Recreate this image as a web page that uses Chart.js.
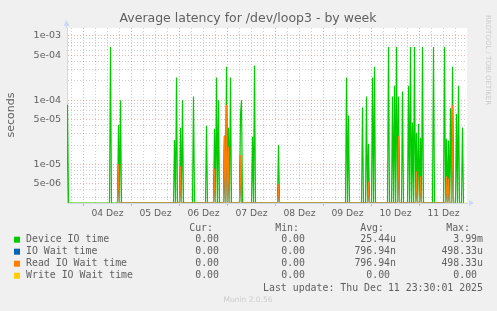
<!DOCTYPE html>
<html>
<head>
<meta charset="utf-8">
<script src="https://cdn.jsdelivr.net/npm/chart.js@4.4.1/dist/chart.umd.min.js"></script>
<style>
    html, body { margin: 0; padding: 0; background: #f0f0f0; }
    #chart { display: block; }
</style>
</head>
<body>
<canvas id="chart" width="497" height="311"></canvas>
<script>
// time is in hours from 04 Dez 00:00
const X_MIN = -8.25;
const X_MAX = 191.75;
const Y_MIN = 2.5e-6;
const Y_MAX = 1.33e-3;

const dayLabels = ['04 Dez', '05 Dez', '06 Dez', '07 Dez', '08 Dez', '09 Dez', '10 Dez', '11 Dez'];
const yTickValues = [1e-3, 5e-4, 1e-4, 5e-5, 1e-5, 5e-6];
const yTickLabels = ['1e-03', '5e-04', '1e-04', '5e-05', '1e-05', '5e-06'];

const deviceHours = [-8, 13.5, 17.5, 18.5, 45.5, 46.5, 48.5, 49.5, 55, 61.5, 65.5, 66.5, 67.5, 70.5, 71.5, 72.5, 73.5,
    78.5, 79, 84.5, 85.5, 97.5, 131.5, 132.5, 139.5, 141.5, 142.5, 144.5, 145.5, 152.5, 154.5, 155.5, 156.5, 157.5,
    159.5, 162.5, 163.5, 164.5, 165.5, 166.5, 167.5, 168.5, 169.5, 175, 180.5, 181.5, 182.5, 183.5, 184.5, 186.5,
    187.5, 189.5];
const deviceValues = [8.5e-5, 6.7e-4, 4.1e-5, 1.0e-4, 2.4e-5, 2.25e-4, 3.7e-5, 1.0e-4, 1.14e-4, 4.0e-5, 3.6e-5, 2.25e-4,
    1.0e-4, 2.8e-5, 3.3e-4, 3.7e-5, 2.25e-4, 6.0e-5, 1.0e-4, 2.7e-5, 3.45e-4, 2.0e-5, 2.25e-4, 5.75e-5, 7.7e-5,
    1.14e-4, 2.1e-5, 2.25e-4, 3.3e-4, 6.7e-4, 1.14e-4, 1.67e-4, 6.7e-4, 1.14e-4, 1.36e-4, 1.67e-4, 6.7e-4, 4.5e-5,
    6.7e-4, 3.1e-5, 4.3e-5, 2.6e-5, 6.7e-4, 6.7e-4, 6.7e-4, 2.5e-5, 2.35e-5, 7.5e-5, 3.3e-4, 6.1e-5, 1.67e-4, 3.75e-5];

const readHours = [17.5, 48.5, 65.5, 70.5, 71.5, 72.5, 78.5, 97.5, 142.5, 157.5, 166.5, 168.5, 181.5, 182.5, 184.5];
const readValues = [1.0e-5, 9.3e-6, 8.6e-6, 2.8e-5, 8.5e-5, 1.9e-5, 1.4e-5, 4.9e-6, 5.4e-6, 2.8e-5, 7.8e-6, 6.5e-6,
    6.5e-6, 6.0e-6, 8.5e-5];

// IO wait is identical to read IO wait (same avg / max), hidden under it
const ioWaitHours = [17.5, 48.5, 65.5, 70.5, 71.5, 72.5, 78.5, 97.5, 142.5, 157.5, 166.5, 168.5, 181.5, 182.5, 184.5];
const ioWaitValues = [1.0e-5, 9.3e-6, 8.6e-6, 2.8e-5, 8.5e-5, 1.9e-5, 1.4e-5, 4.9e-6, 5.4e-6, 2.8e-5, 7.8e-6, 6.5e-6,
    6.5e-6, 6.0e-6, 8.5e-5];

const writeHours = [X_MIN, X_MAX];
const writeValues = [0, 0];

const seriesNames = ['Device IO time', 'IO Wait time', 'Read IO Wait time', 'Write IO Wait time'];
const seriesColors = ['#00cc00', '#0066b3', '#ff8000', '#ffcc00'];
const curText = ['0.00', '0.00', '0.00', '0.00'];
const minText = ['0.00', '0.00', '0.00', '0.00'];
const avgText = ['25.44u', '796.94n', '796.94n', '0.00 '];
const maxText = ['3.99m', '498.33u', '498.33u', '0.00 '];

const FONT_COLOR = '#606060';
const AXIS_COLOR = '#CFD6F8';
const MGRID_COLOR = 'rgba(225, 100, 100, 0.5)';
const GRID_COLOR = 'rgba(150, 150, 150, 0.45)';

// samples between the spikes are zero; on the log axis zero sits on the bottom edge
function toLine(hours, values) {
    const pts = [];
    const lv = v => (v > 0 ? v : Y_MIN);
    hours.forEach((h, i) => {
        const prev = hours[i - 1];
        const next = hours[i + 1];
        if (prev === undefined || h - prev > 0.75) pts.push({ x: h - 0.5, y: Y_MIN });
        pts.push({ x: h, y: lv(values[i]) });
        if (next === undefined || next - h > 0.75) pts.push({ x: h + 0.5, y: Y_MIN });
    });
    return pts;
}

function isMajorY(v) {
    return yTickValues.some(t => Math.abs(v / t - 1) < 1e-6);
}

const muninDecor = {
    id: 'muninDecor',
    beforeDraw(chart) {
        const { ctx, chartArea: a } = chart;
        ctx.save();
        ctx.fillStyle = '#f0f0f0';
        ctx.fillRect(0, 0, chart.width, chart.height);
        ctx.fillStyle = '#ffffff';
        ctx.fillRect(a.left, a.top, a.right - a.left, a.bottom - a.top);
        ctx.restore();
    },
    afterDraw(chart) {
        const { ctx, chartArea: a } = chart;
        ctx.save();

        // axis arrows
        ctx.fillStyle = AXIS_COLOR;
        ctx.strokeStyle = AXIS_COLOR;
        ctx.lineWidth = 1;
        ctx.beginPath();
        ctx.moveTo(a.left - 0.5, a.top);
        ctx.lineTo(a.left - 0.5, a.top - 4);
        ctx.stroke();
        ctx.beginPath();
        ctx.moveTo(a.left - 3.5, a.top - 2);
        ctx.lineTo(a.left + 2.5, a.top - 2);
        ctx.lineTo(a.left - 0.5, a.top - 8);
        ctx.closePath();
        ctx.fill();
        ctx.beginPath();
        ctx.moveTo(a.right + 2, a.bottom - 3);
        ctx.lineTo(a.right + 2, a.bottom + 3);
        ctx.lineTo(a.right + 7, a.bottom);
        ctx.closePath();
        ctx.fill();

        // title
        ctx.fillStyle = FONT_COLOR;
        ctx.font = '12.5px "DejaVu Sans"';
        ctx.textAlign = 'center';
        ctx.textBaseline = 'middle';
        ctx.fillText('Average latency for /dev/loop3 - by week', 248, 19);

        // y axis title
        ctx.save();
        ctx.translate(11, 115);
        ctx.rotate(-Math.PI / 2);
        ctx.font = '11px "DejaVu Sans"';
        ctx.fillText('seconds', 0, 0);
        ctx.restore();

        // side credit
        ctx.save();
        ctx.translate(488, 15);
        ctx.rotate(Math.PI / 2);
        ctx.fillStyle = '#cccccc';
        ctx.font = '7px "DejaVu Sans"';
        ctx.textAlign = 'left';
        ctx.fillText('RRDTOOL / TOBI OETIKER', 0, 0);
        ctx.restore();

        // legend
        ctx.font = '9.9px "DejaVu Sans Mono"';
        ctx.fillStyle = FONT_COLOR;
        ctx.textAlign = 'right';
        ctx.fillText('Cur:', 213, 228);
        ctx.fillText('Min:', 299, 228);
        ctx.fillText('Avg:', 384, 228);
        ctx.fillText('Max:', 470, 228);

        seriesNames.forEach((name, i) => {
            const y = 239.7 + i * 12;
            ctx.fillStyle = seriesColors[i];
            ctx.fillRect(14, y - 3, 6, 6);
            ctx.fillStyle = FONT_COLOR;
            ctx.textAlign = 'left';
            ctx.fillText(name, 26, y);
            ctx.textAlign = 'right';
            ctx.fillText(curText[i], 219, y);
            ctx.fillText(minText[i], 305, y);
            ctx.fillText(avgText[i], 396, y);
            ctx.fillText(maxText[i], 483, y);
        });

        ctx.fillText('Last update: Thu Dec 11 23:30:01 2025', 483, 288);

        ctx.textAlign = 'center';
        ctx.fillStyle = '#cccccc';
        ctx.font = '7.5px "DejaVu Sans"';
        ctx.fillText('Munin 2.0.56', 248, 300);

        ctx.restore();
    }
};

const ctx = document.getElementById('chart').getContext('2d');
const chart = new Chart(ctx, {
    type: 'line',
    data: {
        datasets: [
            {
                label: seriesNames[0],
                data: toLine(deviceHours, deviceValues),
                borderColor: seriesColors[0],
                order: 4
            },
            {
                label: seriesNames[1],
                data: toLine(ioWaitHours, ioWaitValues),
                borderColor: seriesColors[1],
                order: 3
            },
            {
                label: seriesNames[2],
                data: toLine(readHours, readValues),
                borderColor: seriesColors[2],
                order: 2
            },
            {
                label: seriesNames[3],
                data: writeHours.map((h, i) => ({ x: h, y: writeValues[i] > 0 ? writeValues[i] : Y_MIN })),
                borderColor: 'rgba(255, 204, 0, 0.45)',
                order: 1
            }
        ]
    },
    options: {
        responsive: false,
        devicePixelRatio: 1,
        animation: false,
        events: [],
        layout: {
            padding: { left: 0, right: 30, top: 28, bottom: 0 }
        },
        elements: {
            point: { radius: 0 },
            line: { borderWidth: 1.2, tension: 0, fill: false }
        },
        plugins: {
            legend: { display: false },
            tooltip: { enabled: false }
        },
        scales: {
            x: {
                type: 'linear',
                min: X_MIN,
                max: X_MAX,
                afterFit(scale) { scale.height = 108; },
                afterBuildTicks(scale) {
                    const ticks = [];
                    for (let h = -6; h <= 186; h += 6) ticks.push({ value: h });
                    scale.ticks = ticks;
                },
                grid: {
                    color: c => (((c.tick.value % 24) + 24) % 24 === 0 ? MGRID_COLOR : GRID_COLOR),
                    tickColor: c => (((c.tick.value % 24) + 24) % 24 === 0 ? MGRID_COLOR : 'rgba(0, 0, 0, 0)'),
                    drawTicks: true,
                    tickLength: 3
                },
                border: { color: AXIS_COLOR, dash: [1, 2] },
                ticks: {
                    autoSkip: false,
                    maxRotation: 0,
                    padding: 2,
                    color: FONT_COLOR,
                    font: { family: 'DejaVu Sans', size: 9.2 },
                    callback(value) {
                        const h = Math.round(value);
                        if (((h % 24) + 24) % 24 !== 12) return '';
                        return dayLabels[(h - 12) / 24] || '';
                    }
                }
            },
            y: {
                type: 'logarithmic',
                min: Y_MIN,
                max: Y_MAX,
                afterFit(scale) { scale.width = 67; },
                afterBuildTicks(scale) {
                    const ticks = [];
                    for (let e = -7; e <= -2; e++) {
                        for (let k = 1; k <= 9; k++) {
                            const v = k * Math.pow(10, e);
                            if (v >= Y_MIN && v <= Y_MAX) ticks.push({ value: v });
                        }
                    }
                    scale.ticks = ticks;
                },
                grid: {
                    color: c => (isMajorY(c.tick.value) ? MGRID_COLOR : GRID_COLOR),
                    drawTicks: false
                },
                border: { color: AXIS_COLOR, dash: [1, 2] },
                ticks: {
                    autoSkip: false,
                    padding: 6,
                    color: FONT_COLOR,
                    font: { family: 'DejaVu Sans', size: 9.5 },
                    callback(value) {
                        const i = yTickValues.findIndex(t => Math.abs(value / t - 1) < 1e-6);
                        return i >= 0 ? yTickLabels[i] : '';
                    }
                }
            }
        }
    },
    plugins: [muninDecor]
});
</script>
</body>
</html>
